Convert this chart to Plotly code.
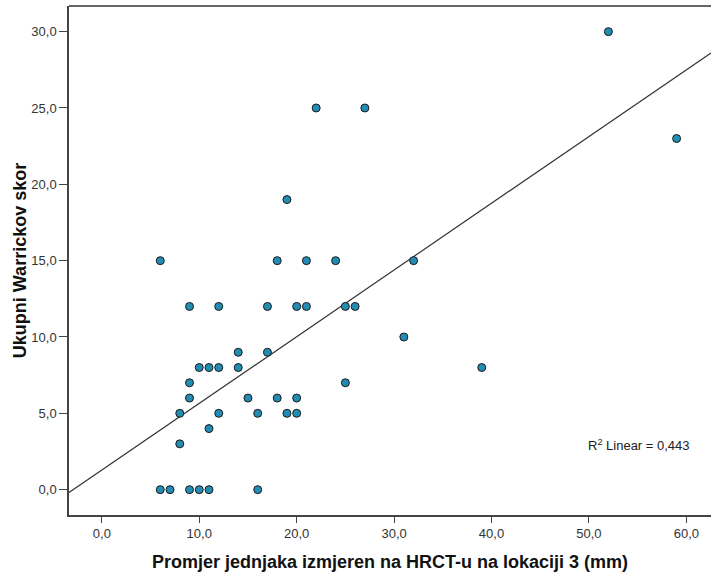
import numpy as np
import plotly.graph_objects as go

# Data
x_vals = [52, 59, 22, 27, 19, 6, 18, 21, 24, 32,
          9, 12, 17, 20, 21, 25, 26, 31, 14, 17,
          10, 11, 12, 14, 39, 9, 25, 9, 15, 18,
          20, 8, 12, 16, 19, 20, 11, 8, 6, 7,
          9, 10, 11, 16]
y_vals = [30, 23, 25, 25, 19, 15, 15, 15, 15, 15,
          12, 12, 12, 12, 12, 12, 12, 10, 9, 9,
          8, 8, 8, 8, 8, 7, 7, 6, 6, 6,
          6, 5, 5, 5, 5, 5, 4, 3, 0, 0,
          0, 0, 0, 0]

x_ticks = [0, 10, 20, 30, 40, 50, 60]
y_ticks = [0, 5, 10, 15, 20, 25, 30]
x_range = [-3.37, 62.53]
y_range = [-1.66, 31.68]

# Fit line (R^2 Linear = 0,443)
fit_slope = 0.437
fit_intercept = 1.28
r2_label = "0,443"

fit_x = np.array(x_range)
fit_y = fit_slope * fit_x + fit_intercept

fig = go.Figure()
fig.add_trace(go.Scatter(x=fit_x, y=fit_y, mode="lines",
                         line=dict(color="#333333", width=1.2),
                         hoverinfo="skip", showlegend=False))
fig.add_trace(go.Scatter(x=x_vals, y=y_vals, mode="markers",
                         marker=dict(size=8, color="#238cb3",
                                     line=dict(color="#1a1a1a", width=1)),
                         showlegend=False))

fig.add_annotation(x=0.805, y=0.137, xref="paper", yref="paper",
                   text="R<sup>2</sup> Linear = " + r2_label, showarrow=False,
                   xanchor="left", yanchor="middle",
                   font=dict(family="Liberation Sans, Arial", size=13, color="#222222"))

fig.update_layout(
    width=711, height=578,
    margin=dict(l=69, r=0, t=6, b=63),
    plot_bgcolor="white", paper_bgcolor="white",
    font=dict(family="Liberation Sans, Arial", color="#222222"),
    shapes=[dict(type="line", xref="paper", yref="paper", x0=0, x1=1, y0=1, y1=1,
                 line=dict(color="#666666", width=2))],
)
fig.update_xaxes(
    range=x_range, tickmode="array", tickvals=x_ticks,
    ticktext=[f"{v:.1f}".replace(".", ",") for v in x_ticks],
    ticks="outside", ticklen=6, tickcolor="#444444",
    showline=True, linecolor="#444444", linewidth=1.5,
    showgrid=False, zeroline=False,
    tickfont=dict(size=13, color="#333333"),
    title=dict(text="<b>Promjer jednjaka izmjeren na HRCT-u na lokaciji 3 (mm)</b>",
               font=dict(size=18, color="#111111"), standoff=15),
)
fig.update_yaxes(
    range=y_range, tickmode="array", tickvals=y_ticks,
    ticktext=[f"{v:.1f}".replace(".", ",") for v in y_ticks],
    ticks="outside", ticklen=8, tickcolor="#444444",
    showline=True, linecolor="#444444", linewidth=1.5,
    showgrid=False, zeroline=False,
    tickfont=dict(size=13, color="#333333"),
    title=dict(text="<b>Ukupni Warrickov skor</b>",
               font=dict(size=18, color="#111111"), standoff=0),
)

fig.write_html("out.html")
